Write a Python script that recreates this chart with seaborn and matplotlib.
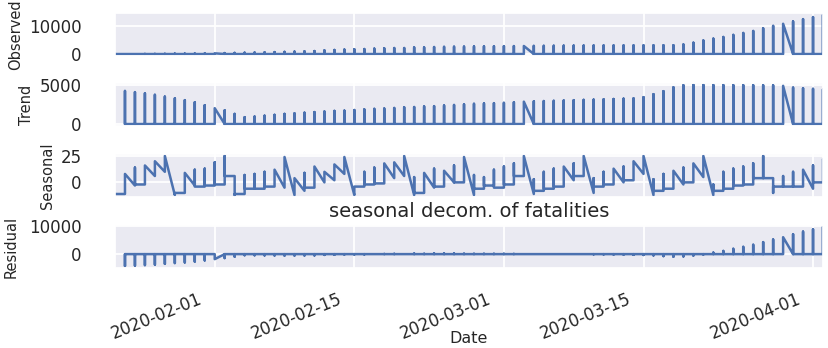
import numpy as np
import pandas as pd
import matplotlib
matplotlib.use('Agg')
import matplotlib.pyplot as plt
import matplotlib.dates as mdates
from matplotlib.transforms import ScaledTranslation
import seaborn as sns

# one entry per day, 2020-01-22 .. 2020-04-02
dates = pd.date_range('2020-01-22', '2020-04-02', freq='D')

# daily spike heights
observed_peak = [17, 17, 24, 40, 52, 76, 125, 125, 162, 204,
                 249, 350, 414, 479, 549, 618, 699, 780, 871, 974,
                 1068, 1310, 1457, 1596, 1696, 1789, 1921, 2029, 2144, 2144,
                 2346, 2346, 2495, 2563, 2615, 2641, 2682, 2727, 2761, 2803,
                 2835, 2871, 2902, 2931, 2959, 2986, 3008, 3024, 3046, 3056,
                 3062, 3075, 3085, 3099, 3111, 3122, 3130, 3405, 4032, 4825,
                 5476, 6077, 6820, 7503, 8215, 9134, 10023, 10779, 11591, 12428,
                 13155, 13915]

trend_peak = [np.nan, 4200, 4050, 3900, 3710, 3480, 3260, 3030, 2760, 2390,
              2010, 1740, 1290, 870, 950, 1060, 1170, 1290, 1360, 1440,
              1520, 1590, 1670, 1700, 1780, 1860, 1930, 1970, 2040, 2120,
              2160, 2230, 2270, 2350, 2420, 2500, 2570, 2610, 2650, 2690,
              2760, 2840, 2880, 2920, 2950, 2990, 3030, 3070, 3100, 3140,
              3180, 3220, 3260, 3410, 3790, 4170, 4660, 4920, 4960, 4960,
              4950, 4950, 4940, 4930, 4920, 4910, 4900, 4850, 4620, 4540,
              4470, 4390]

residual_peak = [np.nan, -4180, -4030, -3860, -3660, -3400, -3140, -2900, -2600, -2190,
                 -1760, -1390, -880, -390, -400, -440, -470, -510, -490, -470,
                 -450, -280, -210, -100, -80, -70, -10, 60, 100, 20,
                 190, 116, 225, 213, 195, 141, 112, 117, 111, 113,
                 75, 31, 22, 11, 9, -4, -10, -20, -40, -65,
                 -105, -135, -230, -300, -450, -700, -900, -800, -500, -100,
                 520, 1120, 1870, 2550, 3280, 4210, 5120, 5930, 6970, 7890,
                 8690, 9525]

# seasonal: first, extreme and last value inside each day
seasonal_first = [-11, -11, -3, -2, 6, 10, -12, -10, -3, -4, -3, -2,
                  6, -11, -6, -6, -4, -5, -12, -8, -5, 0, 2, 8,
                  -12, -4, -2, -1, 4, 6, -12, -10, -5, -4, 0, 0,
                  -12, -6, -3, -5, -2, 6, -11, -8, -6, -4, 2, 6,
                  -10, -4, -2, 0, 2, 8, -12, -8, -6, -2, 0, 5,
                  -12, -8, -6, -3, -2, 4, 4, -4, -4, -4, -6, 0]
seasonal_top = [-11, 8, 14, 16, 20, 25, -12, 9, 12, 13, 19, 25,
                -12, 7, 8, 10, 12, 24, 4, 9, 15, 10, 17, 24,
                -4, 10, 14, 18, 19, 25, 5, 9, 13, 11, 16, 24,
                7, 5, 12, 15, 18, 25, 3, 10, 13, 15, 18, 25,
                4, 10, 13, 15, 20, 25, 3, 8, 11, 14, 18, 25,
                -2, 10, 13, 15, 18, 25, -10, 6, 10, 12, 16, 22]
seasonal_last = [-11, 8, -2, 16, 20, 25, -10, 9, -4, -3, -2, 6,
                 -11, -6, -6, -4, 12, 24, 4, -5, 15, 10, 17, 24,
                 -4, -2, -1, 18, 19, 25, -10, 9, -4, 11, 0, 24,
                 -6, -3, -5, -2, 6, 25, -8, -6, -4, 15, 6, 25,
                 -4, -2, 13, 2, 20, 25, -8, -6, 11, 0, 18, 25,
                 -8, -6, -3, -2, 4, 4, -4, -4, -4, 12, 0, 22]

# days whose block of rows ends on the spike (line runs diagonally into the next day)
ends_on_peak = ['2020-02-01', '2020-03-03', '2020-03-29']


def spike_frame(values):
    rows = []
    for d, v in zip(dates, values):
        if np.isnan(v):
            continue
        rows.append((d, 0.0))
        rows.append((d, v))
        if d.strftime('%Y-%m-%d') not in ends_on_peak:
            rows.append((d, 0.0))
    return pd.DataFrame(rows, columns=['Date', 'value'])


def seasonal_frame():
    rows = []
    for d, a, b, c in zip(dates, seasonal_first, seasonal_top, seasonal_last):
        rows += [(d, a), (d, b), (d, c)]
    return pd.DataFrame(rows, columns=['Date', 'value'])


panels = [
    ('Observed', spike_frame(np.array(observed_peak, dtype=float)), [0, 10000], -0.1398),
    ('Trend', spike_frame(np.array(trend_peak, dtype=float)), [0, 5000], -0.1243),
    ('Seasonal', seasonal_frame(), [0, 25], -0.0960),
    ('Residual', spike_frame(np.array(residual_peak, dtype=float)), [0, 10000], -0.1470),
]

sns.set_theme(style='darkgrid')
plt.rcParams['font.family'] = ['DejaVu Sans']
plt.rcParams['ytick.major.pad'] = 18
plt.rcParams['xtick.major.pad'] = 10
plt.rcParams['ytick.labelsize'] = 12
plt.rcParams['xtick.labelsize'] = 12
plt.rcParams['grid.linewidth'] = 1.3

fig = plt.figure(figsize=(8.29, 3.48), dpi=100)
left, width, height = 115 / 829, 708 / 829, 43 / 348
tops = [13, 83, 154, 225]

axes = []
for i, (label, df, yticks, lab_x) in enumerate(panels):
    ax = fig.add_axes([left, 1 - (tops[i] + 43) / 348, width, height],
                      sharex=axes[0] if axes else None)
    sns.lineplot(data=df, x='Date', y='value', ax=ax, estimator=None, sort=False,
                 color='#4C72B0', linewidth=1.8)
    ax.set_yticks(yticks)
    ax.set_ylabel(label, fontsize=10.5, va='center')
    ax.yaxis.set_label_coords(lab_x, 0.5)
    ax.set_xlabel('')
    axes.append(ax)

ax = axes[-1]
ax.set_xlim(dates[0], dates[-1])
ax.xaxis.set_major_locator(mdates.DayLocator(bymonthday=[1, 15]))
ax.xaxis.set_major_formatter(mdates.DateFormatter('%Y-%m-%d'))
for a in axes[:-1]:
    plt.setp(a.get_xticklabels(), visible=False)
ax.set_xlabel('Date', fontsize=11.5)
ax.xaxis.set_label_coords(0.5, -1.47)
ax.set_title('seasonal decom. of fatalities', fontsize=14, pad=6)

fig.canvas.draw()
shift = ScaledTranslation(-0.10, 0, fig.dpi_scale_trans)
for lab in ax.get_xticklabels():
    lab.set_rotation(22)
    lab.set_ha('right')
    lab.set_transform(lab.get_transform() + shift)

fig.savefig('out.png', dpi=100)
